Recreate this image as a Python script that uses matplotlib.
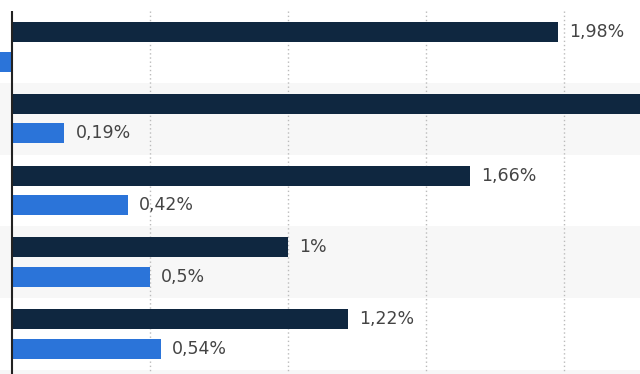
import matplotlib
matplotlib.use("Agg")
import matplotlib.pyplot as plt
import numpy as np

# Data (percent), rows top to bottom
rows = ["r1", "r2", "r3", "r4", "r5"]
series_dark = [1.98, 2.50, 1.66, 1.00, 1.22]
series_blue = [-0.10, 0.19, 0.42, 0.50, 0.54]
grid_ticks = [0.5, 1.0, 1.5, 2.0]

dark_color = "#0f2740"
blue_color = "#2b74d9"
text_color = "#444444"

fig = plt.figure(figsize=(6.4, 3.74), dpi=100)
ax = fig.add_axes([0, 0, 1, 1])

y = np.arange(len(rows))
h = 0.28
off = 0.205

xmin, xmax = -12 / 275.75, 628 / 275.75
ytop, ybot = -0.655, 4.56

# alternating background bands
for i in range(len(rows) + 1):
    if i % 2 == 1:
        ax.axhspan(i - 0.5, i + 0.5, color="#f7f7f7", zorder=0, lw=0)

ax.vlines(grid_ticks, -0.5, ybot, colors="#bbbbbb", linestyles=(0, (1, 2)),
          linewidth=1, zorder=1)

ax.barh(y - off, series_dark, height=h, color=dark_color, zorder=3)
ax.barh(y + off, series_blue, height=h, color=blue_color, zorder=3)

def fmt(v):
    s = f"{v:.2f}".rstrip("0").rstrip(".")
    return s.replace(".", ",") + "%"

for yi, v in zip(y, series_dark):
    if 0 < v < xmax - 0.25:
        ax.text(v + 0.04, yi - off, fmt(v), va="center", ha="left",
                fontsize=12.5, color=text_color, zorder=4)
for yi, v in zip(y, series_blue):
    if 0 < v < xmax - 0.25:
        ax.text(v + 0.04, yi + off, fmt(v), va="center", ha="left",
                fontsize=12.5, color=text_color, zorder=4)

ax.set_xlim(xmin, xmax)
ax.set_ylim(ybot, ytop)

ax.tick_params(left=False, bottom=False, labelleft=False, labelbottom=False)
for s in ["top", "right", "bottom", "left"]:
    ax.spines[s].set_visible(False)
ax.vlines([0], -0.5, ybot, colors="#222222", linewidth=1.5, zorder=5)
ax.set_facecolor("white")

fig.savefig("out.png", dpi=100)
